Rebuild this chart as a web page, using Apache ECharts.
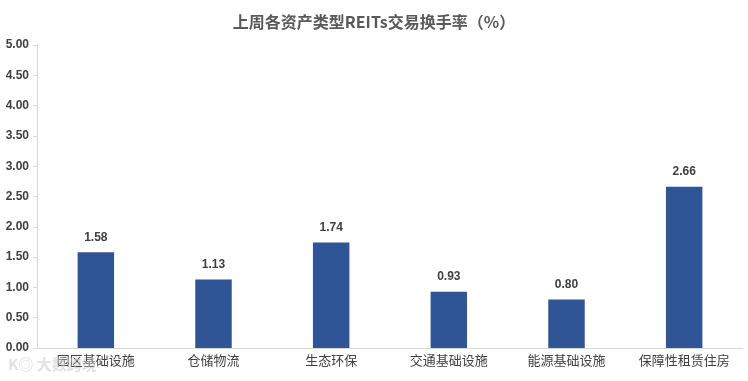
<!DOCTYPE html>
<html><head><meta charset="utf-8">
<script src="https://cdn.jsdelivr.net/npm/echarts@6/dist/echarts.min.js"></script>
<style>html,body{margin:0;padding:0;background:#fff}#c{width:748px;height:381px}</style>
</head><body><div id="c"></div>
<script>
const title = '上周各资产类型REITs交易换手率（%）';
const categories = ['园区基础设施', '仓储物流', '生态环保', '交通基础设施', '能源基础设施', '保障性租赁住房'];
const values = [1.58, 1.13, 1.74, 0.93, 0.80, 2.66];
const yMin = 0, yMax = 5, yStep = 0.5;

const chart = echarts.init(document.getElementById('c'));
chart.setOption({
  animation: false,
  backgroundColor: '#fff',
  title: {
    text: title, left: 'center', top: 9,
    textStyle: { fontFamily: 'Noto Sans CJK SC', fontSize: 16, fontWeight: 'bold', color: '#595959' }
  },
  graphic: [{
    type: 'text', left: 8, top: 357, z: 100,
    style: { text: 'K◎ 大数跨境', fill: 'rgba(200,200,200,0.55)', font: 'bold 15px "Noto Sans CJK SC"' }
  }],
  grid: { left: 37, right: 5, top: 45, bottom: 33, containLabel: false },
  xAxis: {
    type: 'category', data: categories,
    axisLine: { lineStyle: { color: '#d9d9d9' } },
    axisTick: { show: false },
    axisLabel: { interval: 0, color: '#404040', fontSize: 13, fontFamily: 'Noto Sans CJK SC', margin: 6 }
  },
  yAxis: {
    type: 'value', min: yMin, max: yMax, interval: yStep,
    axisLine: { show: true, lineStyle: { color: '#d9d9d9' } },
    axisTick: { show: true, length: 4, lineStyle: { color: '#d9d9d9' } },
    splitLine: { show: false },
    axisLabel: { color: '#404040', fontSize: 12, fontWeight: 'bold', fontFamily: 'Liberation Sans', margin: 8,
      formatter: v => v.toFixed(2) }
  },
  series: [{
    type: 'bar', data: values, barWidth: '31%',
    itemStyle: { color: '#2F5597' },
    label: { show: true, position: 'top', distance: 9, color: '#404040', fontSize: 12, fontWeight: 'bold',
      fontFamily: 'Liberation Sans', formatter: p => p.value.toFixed(2) }
  }]
});
</script></body></html>
